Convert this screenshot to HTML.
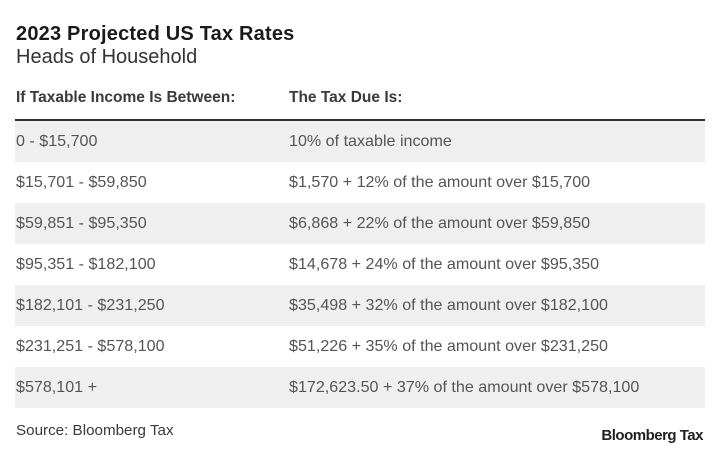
<!DOCTYPE html>
<html>
<head>
<meta charset="utf-8">
<style>
  html, body { margin:0; padding:0; background:#fff; }
  body { width:720px; height:453px; position:relative; overflow:hidden; font-family:"Liberation Sans", Arial, sans-serif; }
  .abs { position:absolute; white-space:nowrap; }
  .title { left:16px; top:24px; font-size:20px; line-height:20px; font-weight:bold; color:#1a1a1a; letter-spacing:0.2px; }
  .sub { left:16px; top:48px; font-size:20px; line-height:19px; color:#333; }
  .hdr { top:90px; font-size:15.5px; line-height:15px; font-weight:bold; color:#3a3a3a; }
  .rule { left:15px; top:119px; width:690px; height:2px; background:#333; }
  .row { position:absolute; left:15px; width:690px; height:41px; }
  .row.g { background:#efefef; }
  .row span { position:absolute; top:0; line-height:41px; font-size:16.1px; color:#555; white-space:nowrap; }
  .c1 { left:1px; }
  .c2 { left:274px; }
  .src { left:16px; top:423px; font-size:15.2px; line-height:15px; color:#3a3a3a; }
  .logo { right:17px; top:429px; font-size:15px; line-height:14px; font-weight:bold; color:#222; letter-spacing:-0.5px; }
</style>
</head>
<body>
  <div class="abs title">2023 Projected US Tax Rates</div>
  <div class="abs sub">Heads of Household</div>
  <div class="abs hdr" style="left:16px;">If Taxable Income Is Between:</div>
  <div class="abs hdr" style="left:289px;">The Tax Due Is:</div>
  <div class="abs rule"></div>

  <div class="row g" style="top:121px;"><span class="c1">0 - $15,700</span><span class="c2">10% of taxable income</span></div>
  <div class="row" style="top:162px;"><span class="c1">$15,701 - $59,850</span><span class="c2">$1,570 + 12% of the amount over $15,700</span></div>
  <div class="row g" style="top:203px;"><span class="c1">$59,851 - $95,350</span><span class="c2">$6,868 + 22% of the amount over $59,850</span></div>
  <div class="row" style="top:244px;"><span class="c1">$95,351 - $182,100</span><span class="c2">$14,678 + 24% of the amount over $95,350</span></div>
  <div class="row g" style="top:285px;"><span class="c1">$182,101 - $231,250</span><span class="c2">$35,498 + 32% of the amount over $182,100</span></div>
  <div class="row" style="top:326px;"><span class="c1">$231,251 - $578,100</span><span class="c2">$51,226 + 35% of the amount over $231,250</span></div>
  <div class="row g" style="top:367px;"><span class="c1">$578,101 +</span><span class="c2">$172,623.50 + 37% of the amount over $578,100</span></div>

  <div class="abs src">Source: Bloomberg Tax</div>
  <div class="abs logo">Bloomberg Tax</div>
</body>
</html>
